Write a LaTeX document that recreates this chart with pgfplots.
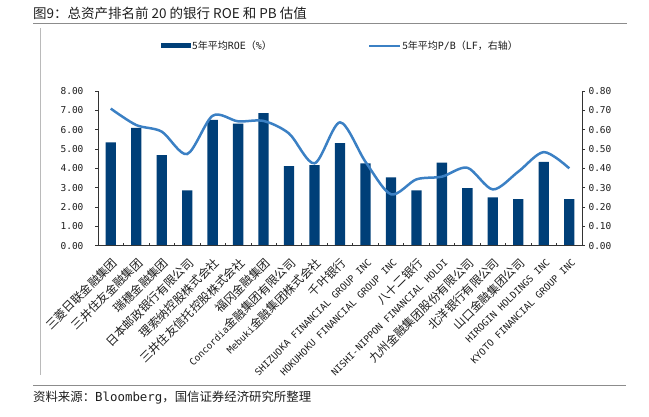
\documentclass[border=0pt]{standalone}
\usepackage{fontspec}
\setmainfont{Noto Sans CJK SC}
\newfontfamily\mono{DejaVu Sans Mono}
\newcommand{\lat}[1]{{\mono\fontsize{9.5}{10}\selectfont #1}}
\usepackage{pgfplots}
\pgfplotsset{compat=1.18}
\definecolor{barblue}{RGB}{0,63,120}
\definecolor{lineblue}{RGB}{59,128,196}
\definecolor{framegray}{RGB}{140,140,140}
\definecolor{txt}{RGB}{30,30,30}
\begin{document}
\begin{tikzpicture}[x=1pt,y=1pt]
\useasboundingbox (0,0) rectangle (649,417);
\node[anchor=west, inner sep=0pt, text=txt, font=\fontsize{13.5}{14}\selectfont] at (33,404) {图9：总资产排名前 20 的银行 ROE 和 PB 估值};
\draw[framegray, line width=0.8pt] (33,393.7) -- (627,393.7);
\draw[framegray!60, line width=0.8pt] (40.7,389) -- (40.7,42);
\draw[framegray, line width=0.8pt] (33,31.3) -- (626,31.3);
\node[anchor=west, inner sep=0pt, text=txt, font=\fontsize{12.4}{13}\selectfont] at (33,19) {资料来源：{\mono Bloomberg}，国信证券经济研究所整理};

% bars, left axis
\begin{axis}[
  at={(98pt,171.3pt)}, anchor=south west,
  width=484pt, height=154.7pt, scale only axis,
  xmin=-0.5, xmax=18.5, ymin=0, ymax=8,
  axis y line*=left, axis x line=none,
  axis line style={black!80, line width=0.7pt},
  ytick={0,1,2,3,4,5,6,7,8},
  tick align=outside, major tick length=3pt,
  tick style={black!80, line width=0.6pt},
  yticklabel style={font=\mono\fontsize{9.5}{10}\selectfont, text=txt, xshift=-8pt,
    /pgf/number format/.cd, fixed, fixed zerofill, precision=2, assume math mode=true},
  xtick=\empty,
  legend columns=2,
  legend style={draw=none, fill=none, at={(0.124,1.291)}, anchor=west,
    font=\fontsize{10}{11}\selectfont, text=txt,
    /tikz/every even column/.append style={column sep=95pt},
    nodes={inner sep=1pt}},
]
\addplot[ybar, bar width=10.3pt, bar shift=0pt, fill=barblue, draw=none,
  legend image code/.code={\fill[barblue] (0pt,-2.5pt) rectangle (30pt,2.5pt);}]
  coordinates {(0,5.34) (1,6.09) (2,4.69) (3,2.86) (4,6.50) (5,6.31) (6,6.86) (7,4.12) (8,4.17) (9,5.30) (10,4.26) (11,3.53) (12,2.86) (13,4.29) (14,2.98) (15,2.50) (16,2.41) (17,4.34) (18,2.41)};
\addlegendentry{5年平均{\mono ROE}（{\mono\%}）}
\addlegendimage{legend image code/.code={\draw[lineblue, line width=2.5pt] (0pt,0pt) -- (31pt,0pt);}}
\addlegendentry{5年平均{\mono P/B}（{\mono LF}，右轴）}
\end{axis}

% line, right axis
\begin{axis}[
  at={(98pt,171.3pt)}, anchor=south west,
  width=484pt, height=154.7pt, scale only axis,
  xmin=-0.5, xmax=18.5, ymin=0, ymax=0.8,
  axis y line*=right, axis x line=none,
  axis line style={black!80, line width=0.7pt},
  ytick={0,0.1,0.2,0.3,0.4,0.5,0.6,0.7,0.8},
  tick align=outside, major tick length=3pt,
  tick style={black!80, line width=0.6pt},
  yticklabel style={font=\mono\fontsize{9.5}{10}\selectfont, text=txt,
    /pgf/number format/.cd, fixed, fixed zerofill, precision=2, assume math mode=true},
  xtick=\empty,
]
\addplot[lineblue, line width=2.5pt, smooth, tension=0.5, mark=none]
  coordinates {(0,0.709) (1,0.624) (2,0.590) (3,0.474) (4,0.672) (5,0.643) (6,0.645) (7,0.580) (8,0.426) (9,0.638) (10,0.434) (11,0.266) (12,0.343) (13,0.357) (14,0.403) (15,0.291) (16,0.383) (17,0.484) (18,0.400)};
\end{axis}

% category axis
\begin{axis}[
  at={(98pt,171.3pt)}, anchor=south west,
  width=484pt, height=154.7pt, scale only axis,
  xmin=-0.5, xmax=18.5, ymin=0, ymax=1,
  axis y line=none, axis x line*=bottom,
  axis line style={black!80, line width=0.7pt},
  xtick={0,1,...,18},
  major tick length=0pt,
  minor xtick={-0.5,0.5,...,18.5},
  minor tick length=3pt,
  tick align=inside,
  minor tick style={black!80, line width=0.6pt},
  xticklabel style={xshift=5pt, yshift=-14pt, rotate=45, anchor=east, inner sep=1pt, text=txt, font=\fontsize{11.8}{12}\selectfont},
  xticklabels={三菱日联金融集团, 三井住友金融集团, 瑞穗金融集团, 日本邮政银行有限公司, 理索纳控股株式会社, 三井住友信托控股株式会社, 福冈金融集团, \lat{Concordia}金融集团有限公司, \lat{Mebuki}金融集团株式会社, 千叶银行, \lat{SHIZUOKA FINANCIAL GROUP INC}, \lat{HOKUHOKU FINANCIAL GROUP INC}, 八十二银行, \lat{NISHI-NIPPON FINANCIAL HOLDI}, 九州金融集团股份有限公司, 北洋银行有限公司, 山口金融集团公司, \lat{HIROGIN HOLDINGS INC}, \lat{KYOTO FINANCIAL GROUP INC}},
]
\end{axis}
\end{tikzpicture}
\end{document}
